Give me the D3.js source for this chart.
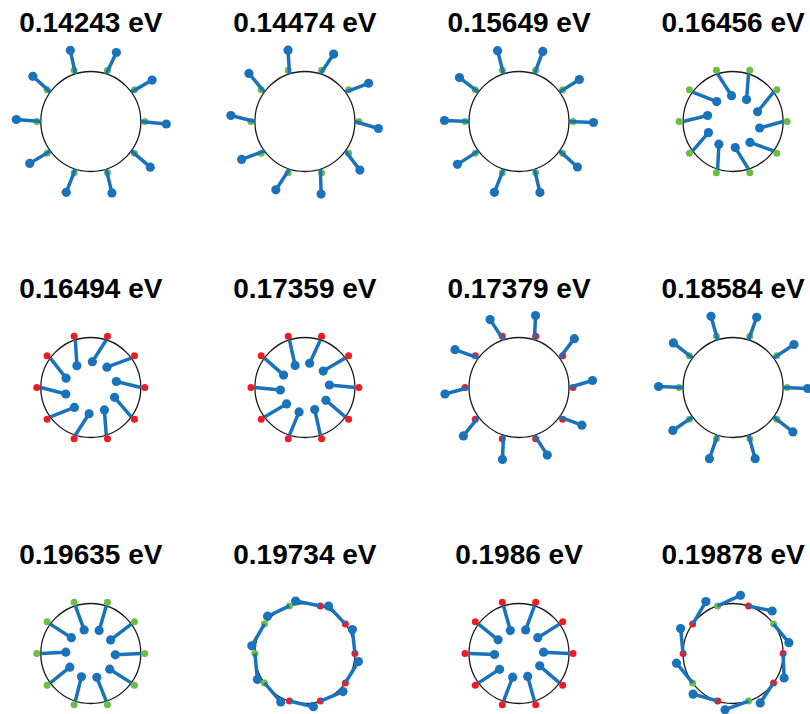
<!DOCTYPE html>
<html>
<head>
<meta charset="utf-8">
<script src="https://cdn.jsdelivr.net/npm/d3@7"></script>
<style>
  html, body { margin: 0; padding: 0; background: #ffffff; }
  svg { display: block; }
</style>
</head>
<body>
<svg id="chart" width="810" height="714"></svg>
<script>
// Ten-site ring: in-plane displacement patterns of each vibrational mode.
const modeLabels = ["0.14243 eV", "0.14474 eV", "0.15649 eV", "0.16456 eV",
                    "0.16494 eV", "0.17359 eV", "0.17379 eV", "0.18584 eV",
                    "0.19635 eV", "0.19734 eV", "0.1986 eV", "0.19878 eV"];

// Site angles on the ring (degrees, counter-clockwise from +x)
const siteAngles = [0, 36, 72, 108, 144, 180, 216, 252, 288, 324];

// Radial displacement of each site (ring radius = 1, outward positive)
const radialDisp = [
  [0.51, 0.48, 0.47, 0.48, 0.47, 0.49, 0.48, 0.50, 0.49, 0.50],
  [0.47, 0.48, 0.46, 0.46, 0.47, 0.48, 0.47, 0.48, 0.48, 0.46],
  [0.49, 0.47, 0.48, 0.48, 0.48, 0.49, 0.50, 0.50, 0.48, 0.48],
  [-0.47, -0.49, -0.50, -0.50, -0.50, -0.49, -0.47, -0.48, -0.49, -0.48],
  [-0.49, -0.50, -0.50, -0.50, -0.49, -0.50, -0.50, -0.49, -0.49, -0.50],
  [-0.51, -0.51, -0.51, -0.52, -0.51, -0.51, -0.51, -0.50, -0.52, -0.51],
  [0.47, 0.47, 0.47, 0.47, 0.48, 0.48, 0.47, 0.47, 0.46, 0.46],
  [0.49, 0.49, 0.48, 0.49, 0.49, 0.49, 0.48, 0.50, 0.49, 0.49],
  [-0.51, -0.52, -0.51, -0.51, -0.50, -0.50, -0.50, -0.50, -0.51, -0.51],
  [-0.05, -0.06, -0.06, -0.06, -0.05, -0.05, -0.04, -0.04, -0.04, -0.04],
  [-0.51, -0.51, -0.51, -0.51, -0.50, -0.51, -0.50, -0.51, -0.51, -0.52],
  [0.02, 0.03, 0.05, 0.06, 0.05, 0.05, 0.03, 0.02, 0.02, 0.02]
];

// Tangential displacement of each site (counter-clockwise positive)
const tangentialDisp = [
  [-0.05, -0.05, -0.06, -0.05, -0.05, -0.04, -0.04, -0.03, -0.04, -0.04],
  [-0.14, -0.13, -0.13, -0.12, -0.12, -0.12, -0.13, -0.13, -0.14, -0.14],
  [-0.02, -0.03, -0.02, -0.03, -0.01, -0.02, -0.03, -0.03, -0.04, -0.05],
  [-0.13, -0.13, -0.12, -0.13, -0.13, -0.12, -0.11, -0.13, -0.12, -0.14],
  [0.12, 0.14, 0.13, 0.13, 0.14, 0.13, 0.13, 0.13, 0.12, 0.12],
  [0.05, 0.05, 0.06, 0.05, 0.05, 0.05, 0.05, 0.04, 0.05, 0.04],
  [0.14, 0.14, 0.13, 0.13, 0.14, 0.13, 0.13, 0.13, 0.12, 0.13],
  [-0.02, -0.02, -0.015, -0.02, -0.02, -0.02, -0.013, -0.011, -0.02, -0.016],
  [-0.027, -0.013, -0.016, -0.019, -0.027, -0.027, -0.025, -0.035, -0.032, -0.031],
  [0.48, 0.49, 0.50, 0.48, 0.50, 0.52, 0.50, 0.49, 0.49, 0.50],
  [0.027, 0.035, 0.019, 0.023, 0.025, 0.02, 0.027, 0.026, 0.023, 0.043],
  [-0.49, -0.48, -0.48, -0.50, -0.52, -0.50, -0.51, -0.51, -0.50, -0.48]
];

// Phase of each site: +1 drawn green, -1 drawn red
const sitePhase = [
  [1, 1, 1, 1, 1, 1, 1, 1, 1, 1],
  [1, 1, 1, 1, 1, 1, 1, 1, 1, 1],
  [1, 1, 1, 1, 1, 1, 1, 1, 1, 1],
  [1, 1, 1, 1, 1, 1, 1, 1, 1, 1],
  [-1, -1, -1, -1, -1, -1, -1, -1, -1, -1],
  [-1, -1, -1, -1, -1, -1, -1, -1, -1, -1],
  [-1, -1, -1, -1, -1, -1, -1, -1, -1, -1],
  [1, 1, 1, 1, 1, 1, 1, 1, 1, 1],
  [1, 1, 1, 1, 1, 1, 1, 1, 1, 1],
  [-1, -1, -1, 1, 1, 1, 1, -1, -1, -1],
  [-1, -1, -1, -1, -1, -1, -1, -1, -1, -1],
  [-1, 1, -1, 1, -1, -1, 1, -1, 1, -1]
];

// Radial lift of the site markers off the ring
const markerLift = [0.08, 0.08, 0.08, 0.08, 0.08, 0.08, 0.08, 0.08, 0.08, 0, 0.08, 0];

const BLUE = "#1a72bb", GREEN = "#6abd45", RED = "#ec1c24";
const phaseColor = d3.scaleOrdinal().domain([1, -1]).range([GREEN, RED]);

const svg = d3.select("#chart");
svg.append("rect").attr("width", 810).attr("height", 714).attr("fill", "#ffffff");

const nCols = 4;
const colScale = d3.scaleLinear().domain([0, 3]).range([90.8, 733.1]);
const rowScale = d3.scaleLinear().domain([0, 2]).range([121.5, 653.5]);

modeLabels.forEach((label, m) => {
  const col = m % nCols, row = Math.floor(m / nCols);
  const cx = colScale(col), cy = rowScale(row);
  const x = d3.scaleLinear().domain([-1, 1]).range([cx - 50, cx + 50]);
  const y = d3.scaleLinear().domain([-1, 1]).range([cy + 50, cy - 50]);

  const g = svg.append("g");

  g.append("text")
    .attr("x", cx)
    .attr("y", cy - 90)
    .attr("text-anchor", "middle")
    .attr("font-family", "'Liberation Sans', Arial, Helvetica, sans-serif")
    .attr("font-weight", "bold")
    .attr("font-size", 28)
    .attr("fill", "#000000")
    .text(label);

  g.append("circle")
    .attr("cx", x(0)).attr("cy", y(0))
    .attr("r", x(1) - x(0))
    .attr("fill", "none")
    .attr("stroke", "#1a1a1a")
    .attr("stroke-width", 1.3);

  const sites = siteAngles.map((deg, i) => {
    const a = deg * Math.PI / 180;
    const c = Math.cos(a), s = Math.sin(a);
    const r = radialDisp[m][i], t = tangentialDisp[m][i];
    const lift = 1 + markerLift[m];
    return {
      x0: c, y0: s,
      mx: lift * c, my: lift * s,
      x1: c + r * c - t * s,
      y1: s + r * s + t * c,
      phase: sitePhase[m][i]
    };
  });

  g.selectAll("circle.site").data(sites).join("circle")
    .attr("class", "site")
    .attr("cx", d => x(d.mx)).attr("cy", d => y(d.my))
    .attr("r", 3.5)
    .attr("fill", d => phaseColor(d.phase));

  g.selectAll("line.disp").data(sites).join("line")
    .attr("class", "disp")
    .attr("x1", d => x(d.x0)).attr("y1", d => y(d.y0))
    .attr("x2", d => x(d.x1)).attr("y2", d => y(d.y1))
    .attr("stroke", BLUE)
    .attr("stroke-width", 3.5);

  g.selectAll("circle.tip").data(sites).join("circle")
    .attr("class", "tip")
    .attr("cx", d => x(d.x1)).attr("cy", d => y(d.y1))
    .attr("r", 4.6)
    .attr("fill", BLUE);
});
</script>
</body>
</html>
